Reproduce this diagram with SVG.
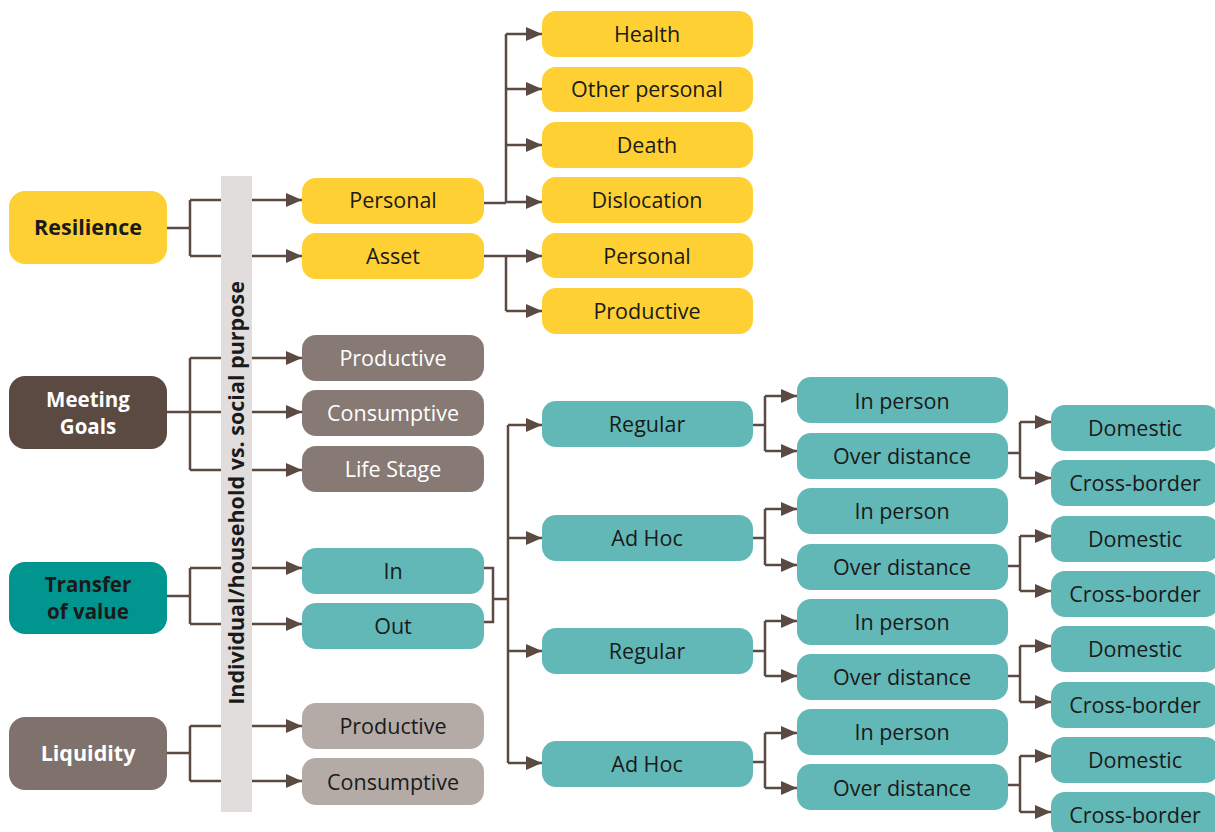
<svg xmlns="http://www.w3.org/2000/svg" width="1215" height="832" viewBox="0 0 1215 832">
<style>
text{font-family:"Open Sans","Noto Sans","Liberation Sans",sans-serif;font-size:21.5px;text-anchor:middle;fill:#1a1a1a}
.b{font-weight:bold}
.s{font-size:20.5px}
.w{fill:#ffffff}
.y{fill:#FFD033}
.mg{fill:#5B4A42}
.g{fill:#877A74}
.tv{fill:#00958F}
.t{fill:#62B8B7}
.lq{fill:#7F716C}
.lg{fill:#B4ABA7}
.c{fill:none;stroke:#5B4A42;stroke-width:2.5}
.a{fill:none;stroke:#5B4A42;stroke-width:2.5;marker-end:url(#ah)}
</style>
<defs>
<marker id="ah" markerUnits="userSpaceOnUse" markerWidth="16" markerHeight="14" viewBox="0 0 16 14" refX="16" refY="7" orient="auto">
<path d="M0,0 L16,7 L0,14 Z" fill="#5B4A42"/>
</marker>
</defs>
<g id="connectors">
<path class="c" d="M167,228 H190 M190,200 V256"/>
<path class="a" d="M190,200 H302"/>
<path class="a" d="M190,256 H302"/>
<path class="c" d="M167,412 H190 M190,358 V470"/>
<path class="a" d="M190,358 H302"/>
<path class="a" d="M190,412 H302"/>
<path class="a" d="M190,470 H302"/>
<path class="c" d="M167,596 H190 M190,568 V624"/>
<path class="a" d="M190,568 H302"/>
<path class="a" d="M190,624 H302"/>
<path class="c" d="M167,753 H190 M190,726 V781"/>
<path class="a" d="M190,726 H302"/>
<path class="a" d="M190,781 H302"/>
<path class="c" d="M484,203 H506 M506,34 V203"/>
<path class="a" d="M506,34 H542"/>
<path class="a" d="M506,89 H542"/>
<path class="a" d="M506,145 H542"/>
<path class="a" d="M506,202 H542"/>
<path class="c" d="M484,256 H506 M506,256 V311"/>
<path class="a" d="M506,256 H542"/>
<path class="a" d="M506,311 H542"/>
<path class="c" d="M484,568 H493 V622 H484 M493,599 H508 M508,425 V763"/>
<path class="a" d="M508,425 H542"/>
<path class="a" d="M508,538 H542"/>
<path class="a" d="M508,651 H542"/>
<path class="a" d="M508,763 H542"/>
<path class="c" d="M753,425 H765 M765,396 V451"/>
<path class="a" d="M765,396 H797"/>
<path class="a" d="M765,451 H797"/>
<path class="c" d="M1008,453 H1020 M1020,422 V478"/>
<path class="a" d="M1020,422 H1051"/>
<path class="a" d="M1020,478 H1051"/>
<path class="c" d="M753,538 H765 M765,509 V565"/>
<path class="a" d="M765,509 H797"/>
<path class="a" d="M765,565 H797"/>
<path class="c" d="M1008,566 H1020 M1020,536 V591"/>
<path class="a" d="M1020,536 H1051"/>
<path class="a" d="M1020,591 H1051"/>
<path class="c" d="M753,651 H765 M765,621 V676"/>
<path class="a" d="M765,621 H797"/>
<path class="a" d="M765,676 H797"/>
<path class="c" d="M1008,676 H1020 M1020,646 V702"/>
<path class="a" d="M1020,646 H1051"/>
<path class="a" d="M1020,702 H1051"/>
<path class="c" d="M753,762 H765 M765,733 V788"/>
<path class="a" d="M765,733 H797"/>
<path class="a" d="M765,788 H797"/>
<path class="c" d="M1008,785 H1020 M1020,756 V812"/>
<path class="a" d="M1020,756 H1051"/>
<path class="a" d="M1020,812 H1051"/>
</g>
<g id="bar">
<rect x="221" y="176" width="31" height="636" fill="#E0DDDC"/>
<text class="b" transform="translate(244,493) rotate(-90)">Individual/household vs. social purpose</text>
</g>
<g id="resilience"><rect class="y" x="9" y="191" width="158" height="73" rx="16"/><text class="b" x="88" y="235">Resilience</text></g>
<g id="meeting-goals"><rect class="mg" x="9" y="376" width="158" height="73" rx="16"/><text class="b w s" x="88" y="407">Meeting</text><text class="b w s" x="88" y="434">Goals</text></g>
<g id="transfer"><rect class="tv" x="9" y="562" width="158" height="72" rx="16"/><text class="b s" x="88" y="592">Transfer</text><text class="b s" x="88" y="619">of value</text></g>
<g id="liquidity"><rect class="lq" x="9" y="717" width="158" height="73" rx="16"/><text class="b w" x="88" y="761">Liquidity</text></g>

<g id="personal"><rect class="y" x="302" y="178" width="182" height="46" rx="14"/><text x="393" y="208">Personal</text></g>
<g id="asset"><rect class="y" x="302" y="233" width="182" height="46" rx="14"/><text x="393" y="264">Asset</text></g>
<g id="health"><rect class="y" x="542" y="11" width="211" height="46" rx="14"/><text x="647" y="42">Health</text></g>
<g id="other-personal"><rect class="y" x="542" y="67" width="211" height="45" rx="14"/><text x="647" y="97">Other personal</text></g>
<g id="death"><rect class="y" x="542" y="122" width="211" height="46" rx="14"/><text x="647" y="153">Death</text></g>
<g id="dislocation"><rect class="y" x="542" y="177" width="211" height="46" rx="14"/><text x="647" y="208">Dislocation</text></g>
<g id="asset-personal"><rect class="y" x="542" y="233" width="211" height="45" rx="14"/><text x="647" y="264">Personal</text></g>
<g id="asset-productive"><rect class="y" x="542" y="288" width="211" height="46" rx="14"/><text x="647" y="319">Productive</text></g>

<g id="mg-productive"><rect class="g" x="302" y="335" width="182" height="46" rx="14"/><text class="w" x="393" y="366">Productive</text></g>
<g id="mg-consumptive"><rect class="g" x="302" y="390" width="182" height="46" rx="14"/><text class="w" x="393" y="421">Consumptive</text></g>
<g id="mg-lifestage"><rect class="g" x="302" y="446" width="182" height="46" rx="14"/><text class="w" x="393" y="477">Life Stage</text></g>

<g id="in"><rect class="t" x="302" y="548" width="182" height="46" rx="14"/><text x="393" y="579">In</text></g>
<g id="out"><rect class="t" x="302" y="603" width="182" height="46" rx="14"/><text x="393" y="634">Out</text></g>

<g id="lq-productive"><rect class="lg" x="302" y="703" width="182" height="46" rx="14"/><text x="393" y="734">Productive</text></g>
<g id="lq-consumptive"><rect class="lg" x="302" y="758" width="182" height="47" rx="14"/><text x="393" y="790">Consumptive</text></g>

<g id="regular-1"><rect class="t" x="542" y="401" width="211" height="46" rx="14"/><text x="647" y="432">Regular</text></g>
<g id="adhoc-1"><rect class="t" x="542" y="515" width="211" height="46" rx="14"/><text x="647" y="546">Ad Hoc</text></g>
<g id="regular-2"><rect class="t" x="542" y="628" width="211" height="46" rx="14"/><text x="647" y="659">Regular</text></g>
<g id="adhoc-2"><rect class="t" x="542" y="741" width="211" height="46" rx="14"/><text x="647" y="772">Ad Hoc</text></g>

<g id="inperson-1"><rect class="t" x="797" y="377" width="211" height="46" rx="14"/><text x="902" y="409">In person</text></g>
<g id="overdist-1"><rect class="t" x="797" y="433" width="211" height="46" rx="14"/><text x="902" y="464">Over distance</text></g>
<g id="inperson-2"><rect class="t" x="797" y="488" width="211" height="46" rx="14"/><text x="902" y="519">In person</text></g>
<g id="overdist-2"><rect class="t" x="797" y="544" width="211" height="46" rx="14"/><text x="902" y="575">Over distance</text></g>
<g id="inperson-3"><rect class="t" x="797" y="599" width="211" height="46" rx="14"/><text x="902" y="630">In person</text></g>
<g id="overdist-3"><rect class="t" x="797" y="654" width="211" height="46" rx="14"/><text x="902" y="685">Over distance</text></g>
<g id="inperson-4"><rect class="t" x="797" y="709" width="211" height="46" rx="14"/><text x="902" y="740">In person</text></g>
<g id="overdist-4"><rect class="t" x="797" y="764" width="211" height="46" rx="14"/><text x="902" y="796">Over distance</text></g>

<g id="domestic-1"><rect class="t" x="1051" y="405" width="168" height="46" rx="14"/><text x="1135" y="436">Domestic</text></g>
<g id="crossborder-1"><rect class="t" x="1051" y="460" width="168" height="46" rx="14"/><text x="1135" y="491">Cross-border</text></g>
<g id="domestic-2"><rect class="t" x="1051" y="516" width="168" height="46" rx="14"/><text x="1135" y="547">Domestic</text></g>
<g id="crossborder-2"><rect class="t" x="1051" y="571" width="168" height="46" rx="14"/><text x="1135" y="602">Cross-border</text></g>
<g id="domestic-3"><rect class="t" x="1051" y="626" width="168" height="46" rx="14"/><text x="1135" y="657">Domestic</text></g>
<g id="crossborder-3"><rect class="t" x="1051" y="682" width="168" height="46" rx="14"/><text x="1135" y="713">Cross-border</text></g>
<g id="domestic-4"><rect class="t" x="1051" y="737" width="168" height="46" rx="14"/><text x="1135" y="768">Domestic</text></g>
<g id="crossborder-4"><rect class="t" x="1051" y="792" width="168" height="46" rx="14"/><text x="1135" y="823">Cross-border</text></g>
</svg>
